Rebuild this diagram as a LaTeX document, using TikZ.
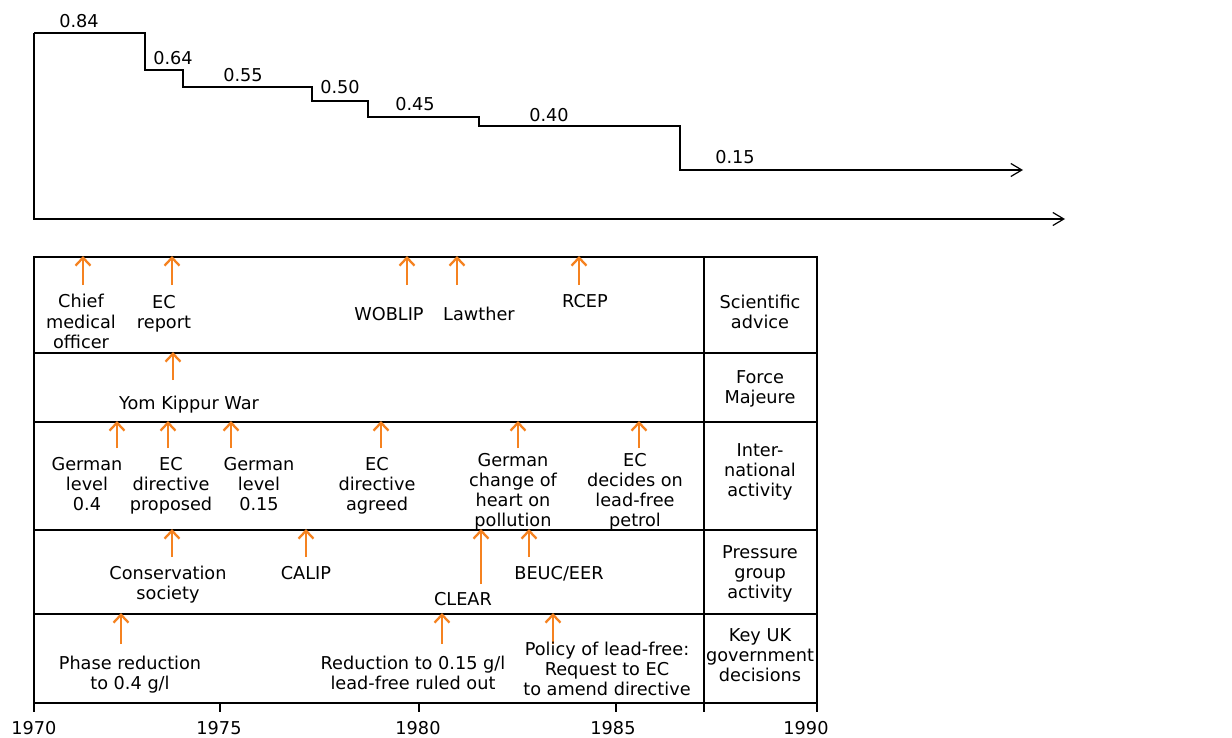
\documentclass[tikz,border=0pt]{standalone}
\usepackage{fontspec}
\setmainfont{DejaVu Sans}
\usetikzlibrary{arrows.meta}
\definecolor{evorange}{RGB}{245,130,32}
\begin{document}
\begin{tikzpicture}[x=1pt,y=-1pt,
  lbl/.style={font=\fontsize{17.7}{20}\selectfont, inner sep=0pt, anchor=base, align=center},
  evarrow/.style={draw=evorange, line width=2.6pt, -{Straight Barb[length=8pt,width=15pt,line width=2.3pt]}},
  frame/.style={draw=black, line width=1.3pt},
  axisarrow/.style={draw=black, line width=1.3pt, -{Straight Barb[length=11pt,width=13pt,line width=1.2pt]}}]
\useasboundingbox (0,0) rectangle (1232,738);
% ---------- top step chart ----------
\draw[axisarrow] (34,33) -- (34,219) -- (1065,219);
\draw[axisarrow] (34,33) -- (145,33) -- (145,70) -- (183,70) -- (183,87) -- (312,87)
  -- (312,101) -- (368,101) -- (368,117) -- (479,117) -- (479,126) -- (680,126)
  -- (680,170) -- (1023,170);
\node[lbl] (v84) at (79,28) {0.84};
\node[lbl] (v64) at (173,65) {0.64};
\node[lbl] (v55) at (243,82) {0.55};
\node[lbl] (v50) at (340,94) {0.50};
\node[lbl] (v45) at (415,111) {0.45};
\node[lbl] (v40) at (549,122) {0.40};
\node[lbl] (v15) at (735,164) {0.15};
% ---------- table ----------
\draw[frame] (34,257) rectangle (817,703);
\foreach \yy in {353,422,530,614} \draw[frame] (34,\yy) -- (817,\yy);
\draw[frame] (704,257) -- (704,712);
\draw[frame] (34,703) -- (34,712);
\draw[frame] (817,703) -- (817,712);
\foreach \xx in {220,419,616} \draw[frame] (\xx,703) -- (\xx,712);
\node[lbl] (y1970) at (34,734) {1970};
\node[lbl] (y1975) at (219,734) {1975};
\node[lbl] (y1980) at (418,734) {1980};
\node[lbl] (y1985) at (613,734) {1985};
\node[lbl] (y1990) at (806,734) {1990};
% row headings (base = baseline of last line)
\node[lbl] (hsci) at (760,328) {Scientific\\advice};
\node[lbl] (hforce) at (760,403) {Force\\Majeure};
\node[lbl] (hint) at (760,496) {Inter-\\national\\activity};
\node[lbl] (hpress) at (760,598) {Pressure\\group\\activity};
\node[lbl] (hkey) at (760,681) {Key UK\\government\\decisions};
% scientific advice
\draw[evarrow] (83,285) -- (83,256);
\draw[evarrow] (172,285) -- (172,256);
\draw[evarrow] (407,285) -- (407,256);
\draw[evarrow] (457,285) -- (457,256);
\draw[evarrow] (579,285) -- (579,256);
\node[lbl] (cmo) at (81,348) {Chief\\medical\\officer};
\node[lbl] (ecr) at (164,328) {EC\\report};
\node[lbl] (wob) at (389,320) {WOBLIP};
\node[lbl] (law) at (479,320) {Lawther};
\node[lbl] (rcep) at (585,308) {RCEP};
% force majeure
\draw[evarrow] (173,380) -- (173,352);
\node[lbl] (ykw) at (189,409) {Yom Kippur War};
% international
\draw[evarrow] (117,448) -- (117,421);
\draw[evarrow] (168,448) -- (168,421);
\draw[evarrow] (231,448) -- (231,421);
\draw[evarrow] (381,448) -- (381,421);
\draw[evarrow] (518,448) -- (518,421);
\draw[evarrow] (639,448) -- (639,421);
\node[lbl] (gl4) at (87,510) {German\\level\\0.4};
\node[lbl] (ecdp) at (171,510) {EC\\directive\\proposed};
\node[lbl] (gl15) at (259,510) {German\\level\\0.15};
\node[lbl] (ecda) at (377,510) {EC\\directive\\agreed};
\node[lbl] (gch) at (513,526) {German\\change of\\heart on\\pollution};
\node[lbl] (ecdl) at (635,526) {EC\\decides on\\lead-free\\petrol};
% pressure groups
\draw[evarrow] (172,557) -- (172,529);
\draw[evarrow] (306,557) -- (306,529);
\draw[evarrow] (481,584) -- (481,529);
\draw[evarrow] (529,557) -- (529,529);
\node[lbl] (cons) at (168,599) {Conservation\\society};
\node[lbl] (calip) at (306,579) {CALIP};
\node[lbl] (clear) at (463,605) {CLEAR};
\node[lbl] (beuc) at (559,579) {BEUC/EER};
% key UK decisions
\draw[evarrow] (121,644) -- (121,613);
\draw[evarrow] (442,644) -- (442,613);
\draw[evarrow] (553,644) -- (553,613);
\node[lbl] (phase) at (130,689) {Phase reduction\\to 0.4 g/l};
\node[lbl] (red) at (413,689) {Reduction to 0.15 g/l\\lead-free ruled out};
\node[lbl] (pol) at (607,695) {Policy of lead-free:\\Request to EC\\to amend directive};
\end{tikzpicture}
\end{document}
